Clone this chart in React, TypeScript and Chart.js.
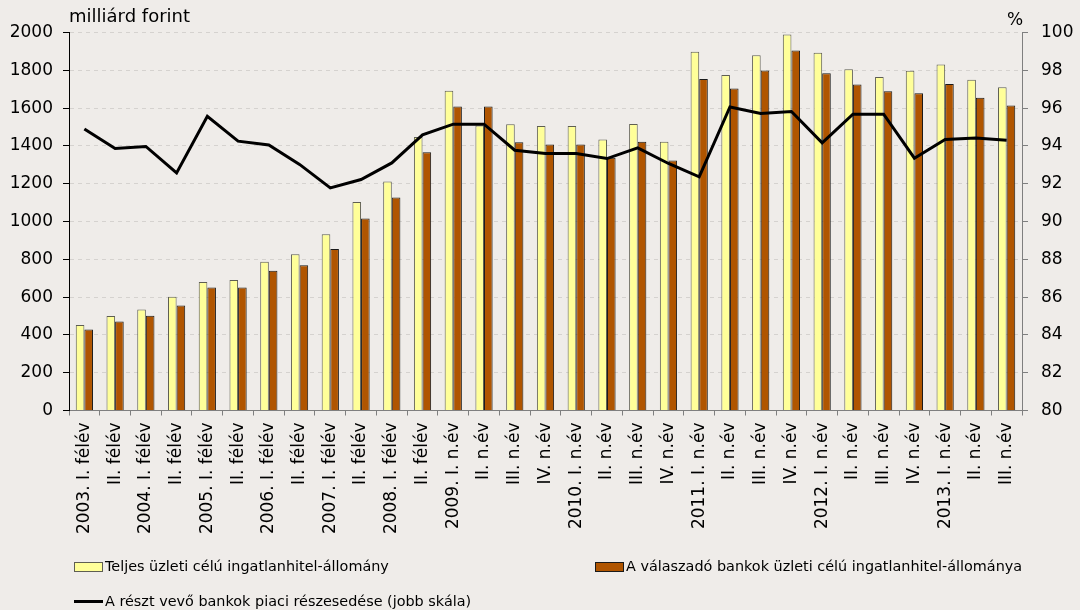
import React, { useEffect, useRef } from "react";
import { Chart, registerables } from "chart.js";

Chart.register(...registerables);

const categories: string[] = [
  "2003. I. félév", "II. félév", "2004. I. félév", "II. félév", "2005. I. félév", "II. félév",
  "2006. I. félév", "II. félév", "2007. I. félév", "II. félév", "2008. I. félév", "II. félév",
  "2009. I. n.év", "II. n.év", "III. n.év", "IV. n.év",
  "2010. I. n.év", "II. n.év", "III. n.év", "IV. n.év",
  "2011. I. n.év", "II. n.év", "III. n.év", "IV. n.év",
  "2012. I. n.év", "II. n.év", "III. n.év", "IV. n.év",
  "2013. I. n.év", "II. n.év", "III. n.év",
];

const totalStock: number[] = [
  452, 500, 535, 602, 680, 690, 787, 827, 932, 1103, 1212, 1447,
  1692, 1508, 1514, 1505, 1505, 1434, 1516, 1422,
  1898, 1775, 1879, 1990, 1893, 1805, 1764, 1798, 1831, 1750, 1710,
];

const respondentStock: number[] = [
  429, 471, 501, 556, 651, 651, 739, 768, 854, 1016, 1127, 1366,
  1609, 1609, 1419, 1408, 1408, 1337, 1422, 1323,
  1754, 1704, 1799, 1905, 1784, 1725, 1689, 1678, 1727, 1655, 1614,
];

const marketShare: number[] = [
  94.9, 93.86, 93.97, 92.57, 95.57, 94.25, 94.05, 93.02, 91.78, 92.22, 93.1, 94.58,
  95.15, 95.15, 93.77, 93.6, 93.6, 93.33, 93.9, 93.07,
  92.36, 96.06, 95.71, 95.82, 94.16, 95.68, 95.68, 93.35, 94.34, 94.42, 94.3,
];

const leftTicks = { min: 0, max: 2000, step: 200 };
const rightTicks = { min: 80, max: 100, step: 2 };

const legendLabels = {
  total: "Teljes üzleti célú ingatlanhitel-állomány",
  respondent: "A válaszadó bankok üzleti célú ingatlanhitel-állománya",
  share: "A részt vevő bankok piaci részesedése (jobb skála)",
};

const FONT = "'DejaVu Sans', sans-serif";
const BG = "#efece9";
const YELLOW = "#ffff99";
const BROWN = "#b05500";

export default function App() {
  const canvasRef = useRef<HTMLCanvasElement | null>(null);

  useEffect(() => {
    document.body.style.margin = "0";
    const canvas = canvasRef.current;
    if (!canvas) return;
    const chart = new Chart(canvas, {
      type: "bar",
      data: {
        labels: categories,
        datasets: [
          {
            type: "line",
            label: legendLabels.share,
            data: marketShare,
            yAxisID: "y1",
            borderColor: "#000",
            borderWidth: 3,
            pointRadius: 0,
            tension: 0,
            order: 0,
          } as any,
          {
            label: legendLabels.total,
            data: totalStock,
            yAxisID: "y",
            backgroundColor: YELLOW,
            borderColor: "#5e5e52",
            borderWidth: 1,
            categoryPercentage: 0.56,
            barPercentage: 1,
            order: 1,
          },
          {
            label: legendLabels.respondent,
            data: respondentStock,
            yAxisID: "y",
            backgroundColor: BROWN,
            borderColor: "#1a1a1a",
            borderWidth: 1,
            categoryPercentage: 0.56,
            barPercentage: 1,
            order: 1,
          },
        ],
      },
      options: {
        responsive: false,
        animation: false,
        layout: { padding: { top: 32.5, left: 0, right: 0, bottom: 0 } },
        plugins: {
          legend: { display: false },
          tooltip: { enabled: false },
        },
        scales: {
          x: {
            offset: true,
            grid: {
              display: true,
              offset: true,
              drawOnChartArea: false,
              drawTicks: true,
              tickLength: 5,
              tickColor: "#7f7f7f",
            },
            border: { display: true, color: "#7f7f7f", width: 1 },
            ticks: {
              autoSkip: false,
              minRotation: 90,
              maxRotation: 90,
              padding: 7,
              color: "#000",
              font: { family: FONT, size: 17 },
            },
            afterFit: (scale: any) => {
              scale.height = 199.5;
            },
          },
          y: {
            position: "left",
            min: leftTicks.min,
            max: leftTicks.max,
            ticks: {
              stepSize: leftTicks.step,
              padding: 10,
              color: "#000",
              font: { family: FONT, size: 17 },
              callback: (v: any) => String(v),
            },
            grid: {
              color: "#d5d2cf",
              lineWidth: 1,
              tickColor: "#000",
              tickLength: 6,
            },
            border: { display: true, color: "#000", width: 1, dash: [4, 4] },
            afterFit: (scale: any) => {
              scale.width = 69;
            },
          },
          y1: {
            position: "right",
            min: rightTicks.min,
            max: rightTicks.max,
            ticks: {
              stepSize: rightTicks.step,
              padding: 13,
              color: "#000",
              font: { family: FONT, size: 17 },
              callback: (v: any) => String(v),
            },
            grid: {
              drawOnChartArea: false,
              tickColor: "#7f7f7f",
              tickLength: 6,
            },
            border: { display: true, color: "#7f7f7f", width: 1 },
            afterFit: (scale: any) => {
              scale.width = 58;
            },
          },
        },
      },
    });
    return () => chart.destroy();
  }, []);

  const textStyle: React.CSSProperties = {
    position: "absolute",
    fontFamily: FONT,
    color: "#000",
    whiteSpace: "nowrap",
    lineHeight: 1,
  };

  return (
    <div
      style={{
        position: "absolute",
        left: 0,
        top: 0,
        width: 1080,
        height: 610,
        background: BG,
        overflow: "hidden",
      }}
    >
      <canvas ref={canvasRef} width={1080} height={610} style={{ position: "absolute", left: 0, top: 0 }} />
      <div style={{ ...textStyle, left: 69, top: 7, fontSize: 18 }}>milliárd forint</div>
      <div style={{ ...textStyle, left: 1007, top: 11, fontSize: 17 }}>%</div>

      <div style={{ position: "absolute", left: 74, top: 562, width: 27, height: 8, background: YELLOW, border: "1px solid #5e5e52" }} />
      <div style={{ ...textStyle, left: 105, top: 559, fontSize: 14.4 }}>{legendLabels.total}</div>

      <div style={{ position: "absolute", left: 595, top: 562, width: 27, height: 8, background: BROWN, border: "1px solid #1a1a1a" }} />
      <div style={{ ...textStyle, left: 626, top: 559, fontSize: 14.4 }}>{legendLabels.respondent}</div>

      <div style={{ position: "absolute", left: 74, top: 599.5, width: 29, height: 3, background: "#000" }} />
      <div style={{ ...textStyle, left: 105, top: 594, fontSize: 14.4 }}>{legendLabels.share}</div>
    </div>
  );
}
